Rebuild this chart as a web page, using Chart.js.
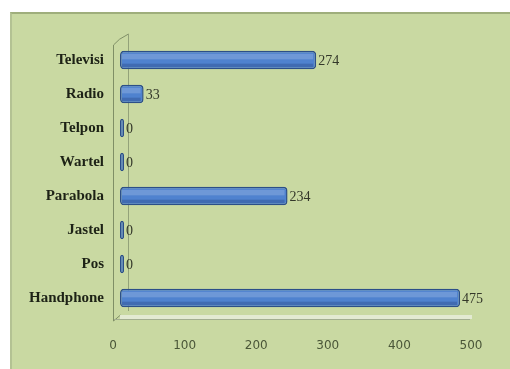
<!DOCTYPE html>
<html>
<head>
<meta charset="utf-8">
<script src="https://cdn.jsdelivr.net/npm/chart.js@4.4.1/dist/chart.umd.min.js"></script>
<style>
  html, body { margin: 0; padding: 0; background: #ffffff; }
  #panel {
    position: absolute; left: 10px; top: 12px; width: 500px; height: 357px;
    background: #c9d9a2; border-top: 2px solid #9fae7c; border-left: 2px solid #b3c293;
    box-sizing: border-box;
  }
  #chart { display: block; }
</style>
</head>
<body>
<div id="panel"><canvas id="chart" width="498" height="355"></canvas></div>
<script>
// Data
const categories = ["Televisi", "Radio", "Telpon", "Wartel", "Parabola", "Jastel", "Pos", "Handphone"];
const values = [274, 33, 0, 0, 234, 0, 0, 475];
const xTicks = [0, 100, 200, 300, 400, 500];

// 3D-ish wall & floor lines around the plot
const wallPlugin = {
  id: "wall",
  beforeDatasetsDraw(chart) {
    const { ctx, chartArea: a } = chart;
    ctx.save();
    ctx.lineWidth = 1;
    // back wall edge
    ctx.strokeStyle = "#7f8f66";
    ctx.beginPath();
    ctx.moveTo(a.left - 6.5, a.top + 2);
    ctx.lineTo(a.left - 6.5, a.bottom + 6);
    ctx.lineTo(a.left + 0.5, a.bottom);
    ctx.stroke();
    // top of wall
    ctx.beginPath();
    ctx.moveTo(a.left - 6.5, a.top + 2);
    ctx.quadraticCurveTo(a.left - 2, a.top - 4, a.left + 8.5, a.top - 9);
    ctx.stroke();
    // front wall edge
    ctx.strokeStyle = "#93a279";
    ctx.beginPath();
    ctx.moveTo(a.left + 8.5, a.top - 9);
    ctx.lineTo(a.left + 8.5, a.bottom - 4);
    ctx.stroke();
    // floor
    ctx.strokeStyle = "#e3ead2";
    ctx.lineWidth = 4;
    ctx.beginPath();
    ctx.moveTo(a.left, a.bottom + 2);
    ctx.lineTo(a.right - 6, a.bottom + 2);
    ctx.stroke();
    ctx.lineWidth = 1;
    ctx.strokeStyle = "#a3ae90";
    ctx.beginPath();
    ctx.moveTo(a.left - 6, a.bottom + 4.5);
    ctx.lineTo(a.right - 8, a.bottom + 4.5);
    ctx.stroke();
    ctx.restore();
  }
};

// cylinder shading + value labels at bar ends
const valueLabels = {
  id: "valueLabels",
  afterDatasetsDraw(chart) {
    const { ctx } = chart;
    const meta = chart.getDatasetMeta(0);
    ctx.save();
    meta.data.forEach(bar => {
      const h = bar.height, top = bar.y - h / 2;
      const w = bar.x - bar.base;
      if (w < 6) return;
      ctx.fillStyle = "rgba(255,255,255,0.18)";
      ctx.fillRect(bar.base + 2, top + 3, w - 5, h * 0.3);
      ctx.fillStyle = "rgba(20,40,90,0.25)";
      ctx.fillRect(bar.base + 2, top + h * 0.7, w - 5, h * 0.3 - 2);
    });
    ctx.font = "14px 'Liberation Serif'";
    ctx.fillStyle = "#34382a";
    ctx.textBaseline = "middle";
    meta.data.forEach((bar, i) => {
      ctx.fillText(String(values[i]), bar.x + 2, bar.y + 1);
    });
    ctx.restore();
  }
};

new Chart(document.getElementById("chart"), {
  type: "bar",
  data: {
    labels: categories,
    datasets: [{
      data: values,
      backgroundColor: "#4f82cf",
      borderColor: "#2c4f88",
      borderWidth: 1.5,
      borderRadius: 4,
      borderSkipped: false,
      minBarLength: 4,
      barPercentage: 0.54,
      categoryPercentage: 1
    }]
  },
  options: {
    indexAxis: "y",
    responsive: false,
    animation: false,
    layout: { padding: { top: 29, right: 32, left: 0, bottom: 0 } },
    plugins: { legend: { display: false }, tooltip: { enabled: false } },
    scales: {
      x: {
        min: 0, max: 500,
        afterBuildTicks: s => { s.ticks = xTicks.map(v => ({ value: v })); },
        afterFit: s => { s.height = 54; s.paddingRight = 0; s.paddingLeft = 0; },
        grid: { display: false, drawTicks: false },
        border: { display: false },
        ticks: {
          padding: 24,
          labelOffset: -7,
          color: "#4a5638",
          font: { family: "'DejaVu Sans'", size: 12 }
        }
      },
      y: {
        afterFit: s => { s.width = 108; },
        grid: { display: false, drawTicks: false },
        border: { display: false },
        ticks: {
          padding: 16,
          color: "#1d2216",
          font: { family: "'Liberation Serif'", size: 15, weight: "bold" }
        }
      }
    }
  },
  plugins: [wallPlugin, valueLabels]
});
</script>
</body>
</html>
